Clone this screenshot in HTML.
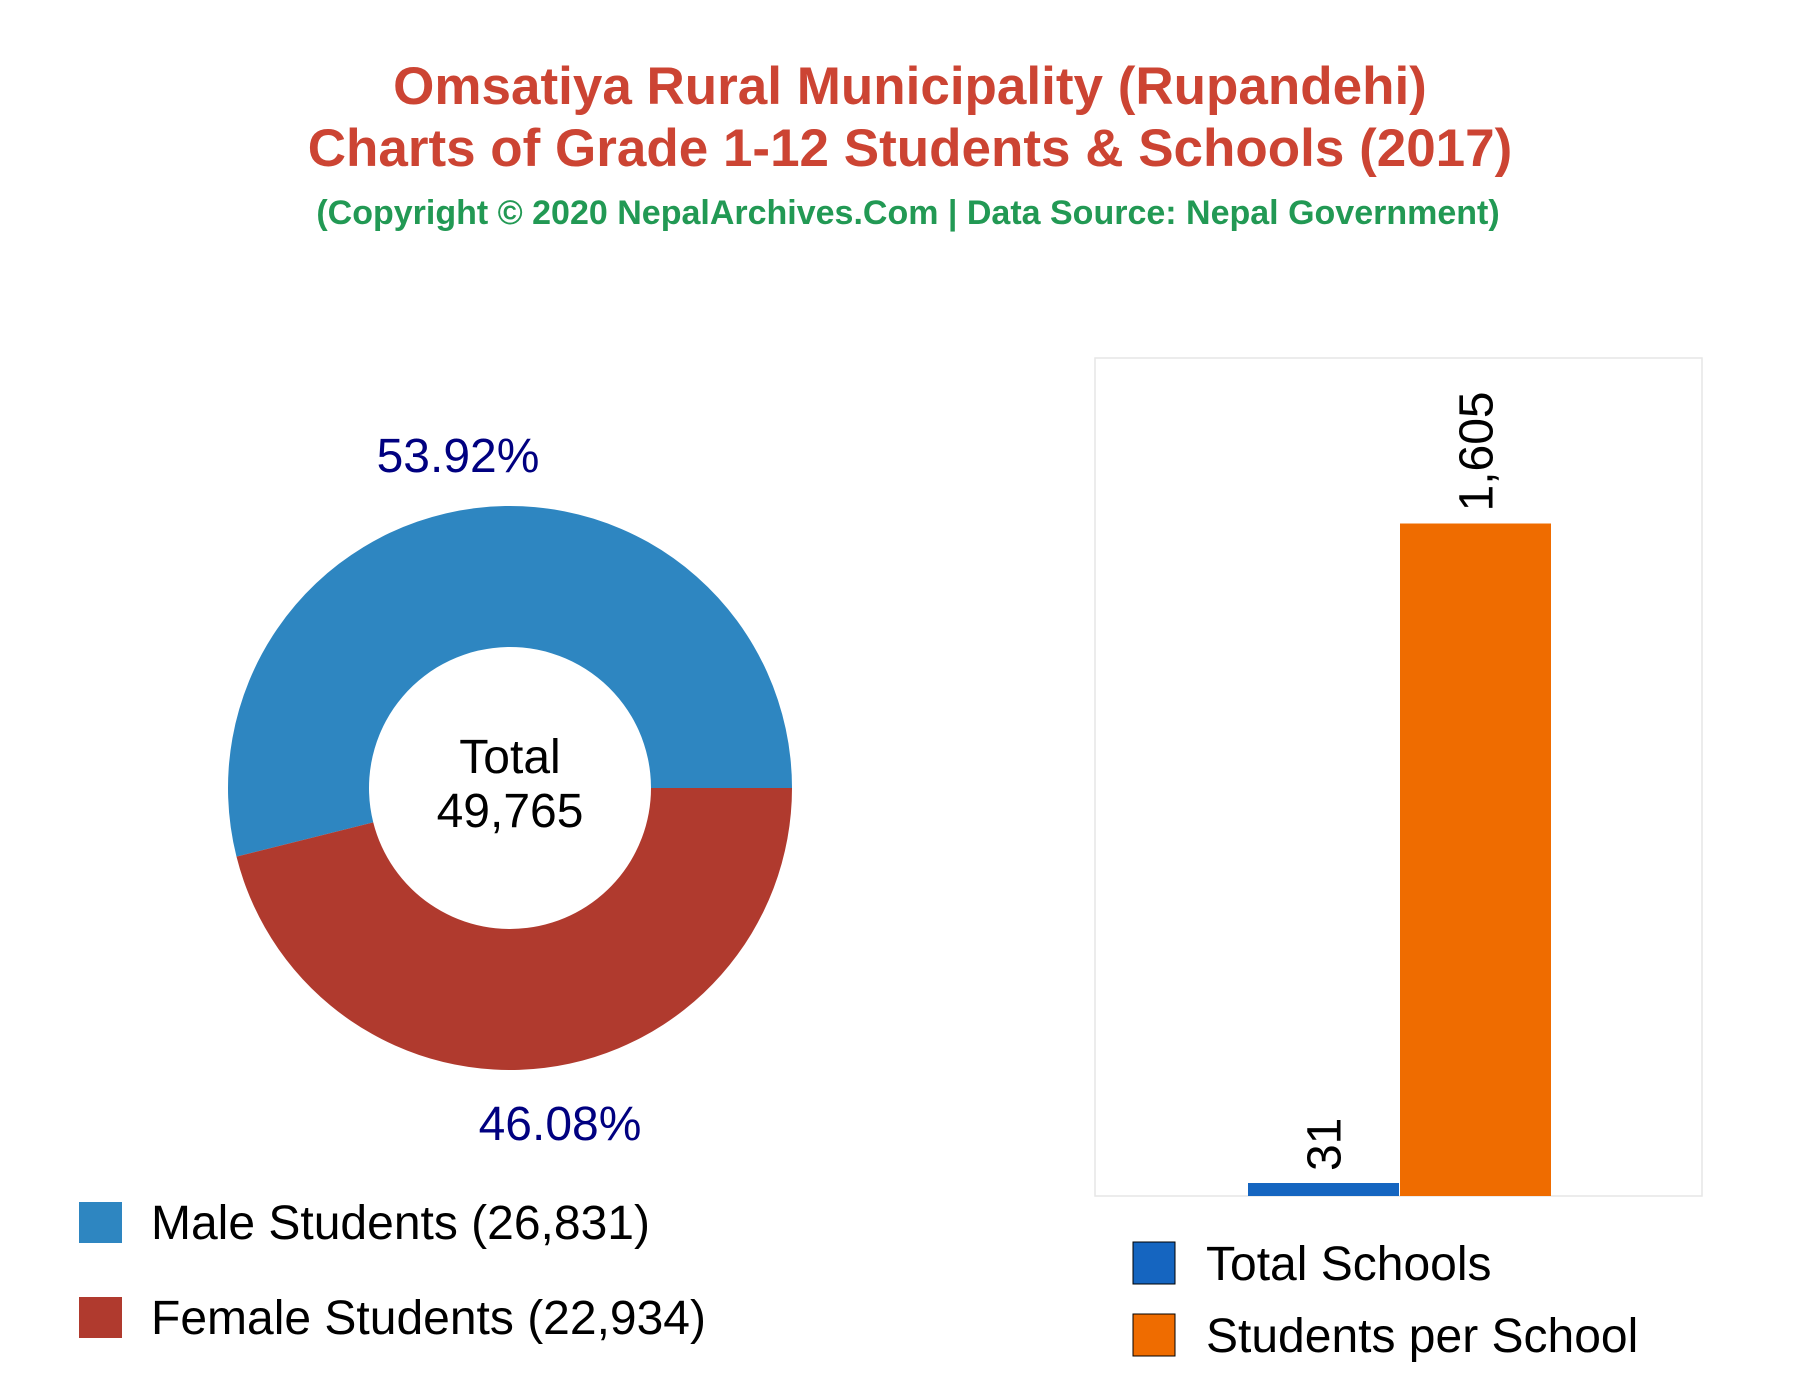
<!DOCTYPE html>
<html><head><meta charset="utf-8"><style>
body{margin:0;background:#fff;font-family:"Liberation Sans",Arial,sans-serif;}
svg{display:block}
</style></head><body>
<svg width="1800" height="1400" viewBox="0 0 1800 1400">
<rect width="1800" height="1400" fill="#fff"/>
<g font-family="Liberation Sans, Arial, sans-serif" font-weight="bold" text-anchor="middle">
<text x="910" y="104" font-size="53" fill="#cc4433">Omsatiya Rural Municipality (Rupandehi)</text>
<text x="910" y="166" font-size="53" fill="#cc4433">Charts of Grade 1-12 Students &amp; Schools (2017)</text>
<text x="908" y="224" font-size="34" fill="#229954">(Copyright © 2020 NepalArchives.Com | Data Source: Nepal Government)</text>
</g>
<g id="donut"></g>
<g id="bars"></g>
</svg>
<script>
const pieLabels=["Male Students","Female Students"];
const pieValues=[26831,22934];
const pieColors=["#2e86c1","#b03a2e"];
const barLabels=["Total Schools","Students per School"];
const barValues=[31,1605];
const barColors=["#1565c0","#ef6c00"];
const NS="http://www.w3.org/2000/svg";
function mk(t,a,p){const e=document.createElementNS(NS,t);for(const k in a)e.setAttribute(k,a[k]);p.appendChild(e);return e;}
function fmt(n){return n.toLocaleString("en-US");}
// donut
const dg=document.getElementById("donut");
const cx=510,cy=788,R=282,r=141;
const total=pieValues.reduce((a,b)=>a+b,0);
let ang=0; // start at 3 o'clock, go counter-clockwise
const labelPos=[[458,455],[560,1123]];
pieValues.forEach((v,i)=>{
  const a0=ang,a1=ang+v/total*2*Math.PI;ang=a1;
  const p=(a,rad)=>[cx+rad*Math.cos(a),cy-rad*Math.sin(a)];
  const [x0,y0]=p(a0,R),[x1,y1]=p(a1,R),[x2,y2]=p(a1,r),[x3,y3]=p(a0,r);
  const lg=(a1-a0)>Math.PI?1:0;
  const s=mk("path",{d:`M${x0},${y0} A${R},${R} 0 ${lg} 0 ${x1},${y1} L${x2},${y2} A${r},${r} 0 ${lg} 1 ${x3},${y3} Z`,fill:pieColors[i]},dg);
  
  
  const t=mk("text",{x:labelPos[i][0],y:labelPos[i][1]+17,"font-size":48,fill:"#000080","text-anchor":"middle"},dg);
  t.textContent=(v/total*100).toFixed(2)+"%";
  
  
  const lx=79,ly=i?1297:1202;
  const sq=mk("rect",{x:lx,y:ly,width:43,height:41,fill:pieColors[i]},dg);
  
  
  const lt=mk("text",{x:151,y:ly+37,"font-size":48,fill:"#000"},dg);
  lt.textContent=pieLabels[i]+" ("+fmt(v)+")";
  
  
});
const t1=mk("text",{x:cx,y:773,"font-size":48,"text-anchor":"middle",fill:"#000"},dg);t1.textContent="Total";


const t2=mk("text",{x:cx,y:827,"font-size":48,"text-anchor":"middle",fill:"#000"},dg);t2.textContent=fmt(total);


// bars
const bg=document.getElementById("bars");
const px0=1095,px1=1702,py0=358,py1=1196,ymax=2000;
const yS=v=>py1-v/ymax*(py1-py0);
const fr=mk("rect",{x:px0,y:py0,width:px1-px0,height:py1-py0,fill:"#fff",stroke:"#e6e6e6","stroke-width":1.5},bg);


const bw=151,bx0=1248;
barValues.forEach((v,i)=>{
  const x=bx0+i*(bw+1);
  const b=mk("rect",{x:x,y:yS(v),width:bw,height:py1-yS(v),fill:barColors[i]},bg);
  
  
  const tx=x+bw/2+17,ty=yS(v)-12;
  const t=mk("text",{x:tx,y:ty,"font-size":48,fill:"#000",transform:`rotate(-90 ${tx} ${ty})`},bg);
  t.textContent=fmt(v);
  
  
  const ly=i?1314:1242;
  const sq=mk("rect",{x:1133,y:ly,width:42,height:42,fill:barColors[i],stroke:"#000","stroke-width":1},bg);
  
  
  const lt=mk("text",{x:1206,y:ly+38,"font-size":48,fill:"#000"},bg);
  lt.textContent=barLabels[i];
  
  
});
</script>
</body></html>
